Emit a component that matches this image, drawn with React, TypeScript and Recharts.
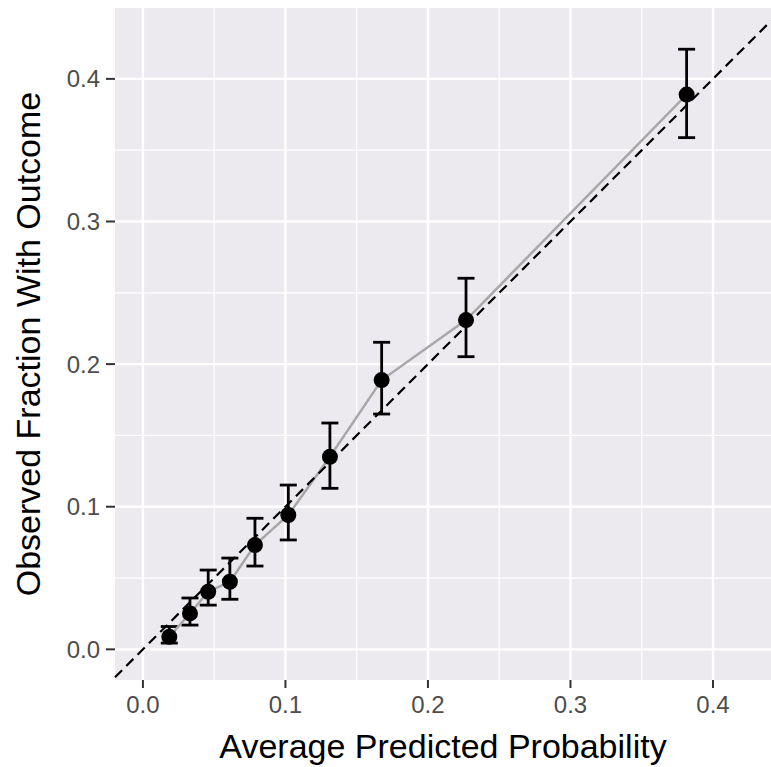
import React from "react";
import {
  ComposedChart,
  XAxis,
  YAxis,
  CartesianGrid,
  Scatter,
  Line,
  ErrorBar,
  ReferenceLine,
} from "recharts";

// calibration bins
const predicted = [0.0185, 0.033, 0.0458, 0.061, 0.0786, 0.102, 0.1312, 0.1675, 0.2267, 0.3815];
const observed = [0.0088, 0.0252, 0.0404, 0.0474, 0.0731, 0.0942, 0.135, 0.1888, 0.2309, 0.389];
const lower = [0.0044, 0.017, 0.031, 0.0351, 0.0584, 0.0767, 0.1129, 0.165, 0.2052, 0.3588];
const upper = [0.016, 0.036, 0.0556, 0.064, 0.0919, 0.1152, 0.1587, 0.2153, 0.2602, 0.4208];

const majorTicks = [0, 0.1, 0.2, 0.3, 0.4];
const minorTicks = [0.05, 0.15, 0.25, 0.35];

const xDomain: [number, number] = [-0.0196, 0.4407];
const yDomain: [number, number] = [-0.0215, 0.4497];

const data = predicted.map((x, i) => ({
  x,
  y: observed[i],
  err: [observed[i] - lower[i], upper[i] - observed[i]],
}));

const FONT = "'Liberation Sans', Arial, sans-serif";
const PANEL = "#EDEAEF";

const Dot = (props: any) => {
  const { cx, cy } = props;
  if (cx == null || cy == null) return null;
  return <circle cx={cx} cy={cy} r={8} fill="#000" />;
};

const App = () => {
  const diagLo = Math.max(xDomain[0], yDomain[0]);
  const diagHi = Math.min(xDomain[1], yDomain[1]);
  return (
    <div style={{ position: "absolute", left: 0, top: 0 }}>
      <ComposedChart
        width={771}
        height={767}
        data={data}
        margin={{ top: 8, right: 0, bottom: 0, left: 0 }}
        style={{ fontFamily: FONT }}
      >
        <CartesianGrid
          fill={PANEL}
          stroke="#fff"
          strokeWidth={1.2}
          verticalValues={minorTicks}
          horizontalValues={minorTicks}
        />
        <CartesianGrid
          stroke="#fff"
          strokeWidth={2.4}
          verticalValues={majorTicks}
          horizontalValues={majorTicks}
        />
        <XAxis
          type="number"
          dataKey="x"
          domain={xDomain}
          allowDataOverflow
          ticks={majorTicks}
          tickFormatter={(v: number) => v.toFixed(1)}
          height={87}
          axisLine={false}
          tickSize={8}
          tickMargin={8}
          tickLine={{ stroke: "#333", strokeWidth: 2 }}
          tick={{ fill: "#4D4D4D", fontSize: 24, fontFamily: FONT }}
          label={{
            value: "Average Predicted Probability",
            position: "insideBottom",
            offset: 9,
            style: { fill: "#000", fontSize: 34, fontFamily: FONT, textAnchor: "middle" },
          }}
        />
        <YAxis
          type="number"
          dataKey="y"
          domain={yDomain}
          allowDataOverflow
          ticks={majorTicks}
          tickFormatter={(v: number) => v.toFixed(1)}
          width={115}
          axisLine={false}
          tickSize={9}
          tickMargin={6}
          tickLine={{ stroke: "#333", strokeWidth: 2 }}
          tick={{ fill: "#4D4D4D", fontSize: 24, fontFamily: FONT }}
          label={{
            value: "Observed Fraction With Outcome",
            angle: -90,
            position: "insideLeft",
            offset: 28,
            style: { fill: "#000", fontSize: 34, fontFamily: FONT, textAnchor: "middle" },
          }}
        />
        <Scatter dataKey="y" shape={<Dot />} isAnimationActive={false}>
          <ErrorBar
            dataKey="err"
            direction="y"
            width={8.5}
            stroke="#000"
            strokeWidth={2.8}
            isAnimationActive={false}
          />
        </Scatter>
        <Line
          type="linear"
          dataKey="y"
          stroke="#A8A8A8"
          strokeWidth={2.5}
          dot={false}
          activeDot={false}
          isAnimationActive={false}
        />
        <ReferenceLine
          segment={[
            { x: diagLo, y: diagLo },
            { x: diagHi, y: diagHi },
          ]}
          stroke="#000"
          strokeWidth={2.2}
          strokeDasharray="10 6"
          ifOverflow="visible"
        />
      </ComposedChart>
    </div>
  );
};

export default App;
